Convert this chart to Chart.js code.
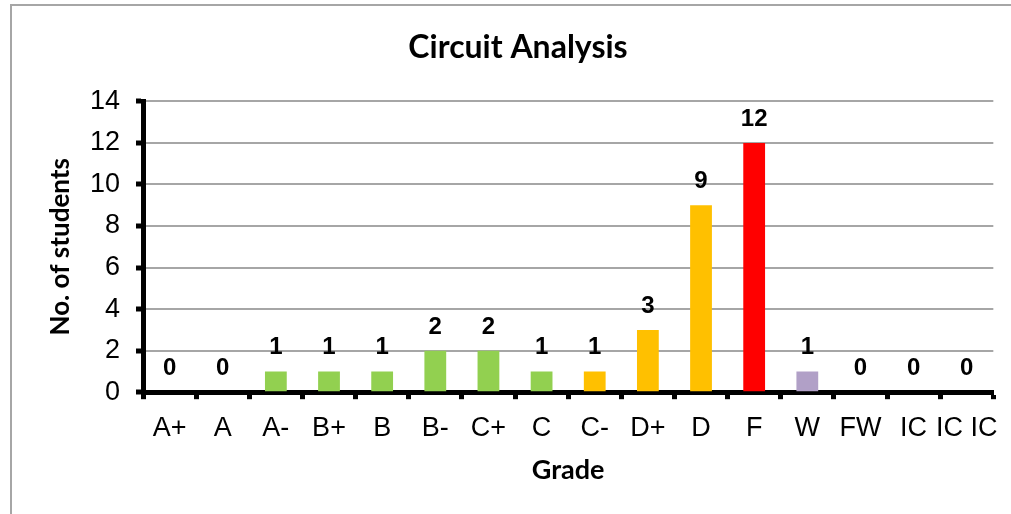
<!DOCTYPE html>
<html>
<head>
<meta charset="utf-8">
<script src="https://cdn.jsdelivr.net/npm/chart.js@4"></script>
<style>
  body { margin: 0; background: #fff; }
  #wrap { position: relative; width: 1011px; height: 514px; overflow: hidden; }
  #frame { position: absolute; left: 10px; top: 4px; width: 1100px; height: 600px; border: 2px solid #a6a6a6; box-sizing: border-box; }
  canvas { position: absolute; left: 0; top: 0; }
</style>
</head>
<body>
<div id="wrap">
  <div id="frame"></div>
  <canvas id="chart" width="1011" height="514"></canvas>
</div>
<script>
// grades and number of students per grade
const grades = ['A+', 'A', 'A-', 'B+', 'B', 'B-', 'C+', 'C', 'C-', 'D+', 'D', 'F', 'W', 'FW', 'IC', 'IC IC'];
const students = [0, 0, 1, 1, 1, 2, 2, 1, 1, 3, 9, 12, 1, 0, 0, 0];
const barColors = [
  '#92d050', '#92d050', '#92d050', '#92d050', '#92d050', '#92d050', '#92d050', '#92d050',
  '#ffc000', '#ffc000', '#ffc000', '#ff0000', '#b1a0c7', '#b1a0c7', '#b1a0c7', '#b1a0c7',
];
const yTicks = [0, 2, 4, 6, 8, 10, 12, 14];

// draws the value above each bar
const valueLabels = {
  id: 'valueLabels',
  afterDatasetsDraw(chart) {
    const ctx = chart.ctx;
    const meta = chart.getDatasetMeta(0);
    ctx.save();
    ctx.font = 'bold 24px "Liberation Sans", Arial, sans-serif';
    ctx.fillStyle = '#000';
    ctx.textAlign = 'center';
    ctx.textBaseline = 'alphabetic';
    meta.data.forEach((bar, i) => {
      ctx.fillText(String(students[i]), bar.x, bar.y - 17);
    });
    ctx.restore();
  },
};

new Chart(document.getElementById('chart'), {
  type: 'bar',
  data: {
    labels: grades,
    datasets: [{
      data: students,
      backgroundColor: barColors,
      categoryPercentage: 1,
      barPercentage: 0.41,
    }],
  },
  plugins: [valueLabels],
  options: {
    responsive: false,
    animation: false,
    layout: { padding: { top: 8, left: 41, right: 16, bottom: 0 } },
    plugins: {
      legend: { display: false },
      tooltip: { enabled: false },
      title: {
        display: true,
        text: 'Circuit Analysis',
        color: '#000',
        font: { family: 'Lato, "Open Sans", sans-serif', size: 32, weight: 'bold' },
        padding: { top: 20, bottom: 35 },
      },
    },
    scales: {
      x: {
        offset: true,
        grid: { offset: true, drawOnChartArea: false, tickColor: '#000', tickWidth: 5, tickLength: 7 },
        border: { color: '#000', width: 5 },
        ticks: {
          color: '#000',
          padding: 13,
          maxRotation: 0,
          autoSkip: false,
          font: { family: '"Liberation Sans", Arial, sans-serif', size: 27 },
        },
        title: {
          display: true,
          text: 'Grade',
          color: '#000',
          font: { family: 'Lato, "Open Sans", sans-serif', size: 27, weight: 'bold' },
          padding: { top: -4, bottom: 28 },
        },
      },
      y: {
        min: 0,
        max: 14,
        afterBuildTicks(scale) {
          scale.ticks = yTicks.map((v) => ({ value: v }));
        },
        afterFit(scale) {
          scale.width = 102;
        },
        grid: { color: '#a6a6a6', lineWidth: 2, tickColor: '#000', tickWidth: 5, tickLength: 7 },
        border: { color: '#000', width: 5 },
        ticks: {
          color: '#000',
          padding: 16,
          font: { family: '"Liberation Sans", Arial, sans-serif', size: 27 },
        },
        title: {
          display: true,
          text: 'No. of students',
          color: '#000',
          font: { family: 'Lato, "Open Sans", sans-serif', size: 26, weight: 'bold' },
          padding: { top: 4, bottom: 0 },
        },
      },
    },
  },
});
</script>
</body>
</html>
